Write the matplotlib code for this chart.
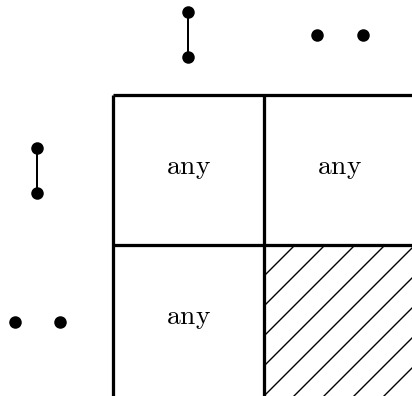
import numpy as np
import matplotlib.pyplot as plt
from matplotlib.patches import Rectangle

plt.rcParams['mathtext.fontset'] = 'cm'
plt.rcParams['hatch.linewidth'] = 0.55

# celdas con texto (columna, fila)
cell_cols = [0, 1, 0]
cell_rows = [0, 0, 1]
cell_text = ['any', 'any', 'any']

# celda rayada
hatch_col, hatch_row = 1, 1

# patrones de puntos: pares arriba (columnas) y a la izquierda (filas)
pair_x = [[0.5, 0.5], [1.35, 1.655], [-0.503, -0.503], [-0.649, -0.351]]
pair_y = [[-0.553, -0.253], [-0.4, -0.4], [0.353, 0.653], [1.513, 1.513]]
pair_linked = [True, False, True, False]

fig = plt.figure(figsize=(412 / 180, 396 / 180), dpi=180)
ax = fig.add_axes([0, 0, 1, 1])
ax.set_xlim(-0.748, 1.98)
ax.set_ylim(2.007, -0.633)
ax.axis('off')

# rejilla
for v in [0, 1]:
    ax.plot([v, v], [0, 2.1], color='black', lw=1.3, solid_capstyle='butt')
    ax.plot([0, 2.1], [v, v], color='black', lw=1.3, solid_capstyle='butt')

# texto de celdas
for c, r, t in zip(cell_cols, cell_rows, cell_text):
    ax.text(c + 0.5, r + 0.525, r'$\mathrm{' + t + '}$', fontsize=11,
            ha='center', va='baseline')

# celda rayada
ax.add_patch(Rectangle((hatch_col, hatch_row), 1.2, 1.2, facecolor='none',
                       edgecolor='black', lw=0, hatch='//'))

# puntos
for xs, ys, linked in zip(pair_x, pair_y, pair_linked):
    if linked:
        ax.plot(xs, ys, color='black', lw=0.8)
    ax.plot(xs, ys, 'o', color='black', ms=4, lw=0)

fig.savefig('out.png', dpi=180)
